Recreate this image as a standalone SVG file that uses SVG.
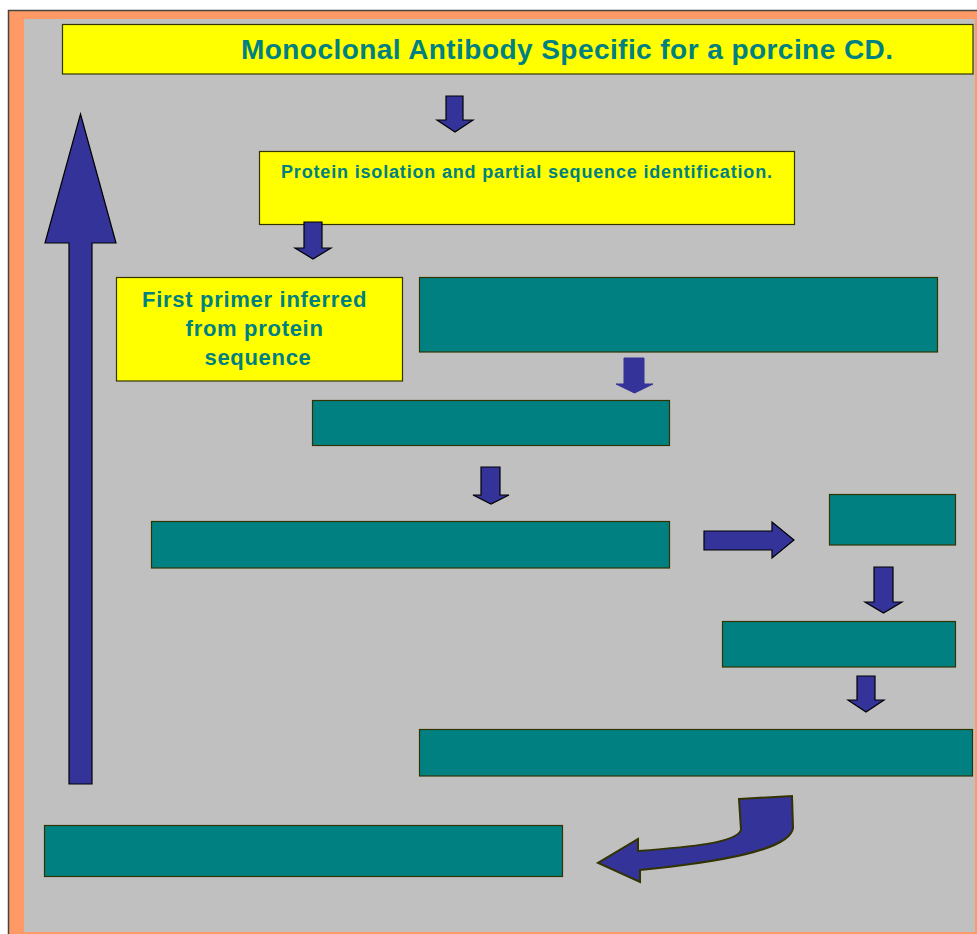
<svg xmlns="http://www.w3.org/2000/svg" width="977" height="934" viewBox="0 0 977 934">
<style>
.y{fill:#ffff00;stroke:#333300;stroke-width:1.2}
.t{fill:#008080;stroke:#333300;stroke-width:1.2}
.a{fill:#333399;stroke:#000000;stroke-width:1.2}
.a2{fill:#333399;stroke:#333399;stroke-width:1}
.txt{font-family:"Liberation Sans",Arial,sans-serif;font-weight:bold;fill:#008080}
</style>
<rect x="0" y="0" width="977" height="934" fill="#ffffff"/>
<rect x="8.5" y="10.5" width="970" height="926" fill="#ff9966" stroke="#444444" stroke-width="1.5"/>
<rect x="24" y="19" width="951" height="913" fill="#c0c0c0"/>
<g id="title">
<rect class="y" x="62.5" y="24.5" width="910.5" height="49.5"/>
<text class="txt" x="241" y="59" font-size="28" textLength="652" lengthAdjust="spacing">Monoclonal Antibody Specific for a porcine CD.</text>
</g>
<g id="protein">
<rect class="y" x="259.5" y="151.5" width="535" height="73"/>
<text class="txt" x="281" y="178" font-size="18" textLength="491" lengthAdjust="spacing">Protein isolation and partial sequence identification.</text>
</g>
<g id="primer">
<rect class="y" x="116.5" y="277.5" width="286" height="103.5"/>
<text class="txt" font-size="22" text-anchor="middle" letter-spacing="0.7">
<tspan x="258" y="307">First primer inferred</tspan>
<tspan x="258" y="336">from protein</tspan>
<tspan x="258" y="365">sequence</tspan>
</text>
</g>
<g id="box1"><rect class="t" x="419.5" y="277.5" width="518" height="74.5"/></g>
<g id="box2"><rect class="t" x="312.5" y="400.5" width="357" height="45"/></g>
<g id="box3"><rect class="t" x="151.5" y="521.5" width="518" height="46.5"/></g>
<g id="box4"><rect class="t" x="829.5" y="494.5" width="126" height="50.5"/></g>
<g id="box5"><rect class="t" x="722.5" y="621.5" width="233" height="45.5"/></g>
<g id="box6"><rect class="t" x="419.5" y="729.5" width="553" height="46.5"/></g>
<g id="box7"><rect class="t" x="44.5" y="825.5" width="518" height="51"/></g>
<g id="connectors">
<polygon class="a" points="446,96 463,96 463,120 473,120 455,132 437,120 446,120"/>
<polygon class="a" points="304,222 322,222 322,248 331,248 313,259 295,248 304,248"/>
<polygon class="a2" points="624,358 644,358 644,384 653,384 634.5,393 616,384 624,384"/>
<polygon class="a" points="481,467 500,467 500,495 509,495 491,504 473,495 481,495"/>
<polygon class="a" points="704,531 772,531 772,522 794,540 772,558 772,550 704,550"/>
<polygon class="a" points="874,567 893,567 893,602 902,602 883.5,613 865,602 874,602"/>
<polygon class="a" points="857,676 875,676 875,700 884,700 866,712 848,700 857,700"/>
<polygon class="a" points="80.5,114 116,243 92,243 92,784 69,784 69,243 45,243"/>
<path d="M739 799 L792 796 L793 828 C790 850 720 862 640 870 L640 882 L598 863 L638 839 L638 851 C690 847 736 843 741 830 Z" fill="#333399" stroke="#333300" stroke-width="2" stroke-linejoin="miter"/>
</g>
</svg>
